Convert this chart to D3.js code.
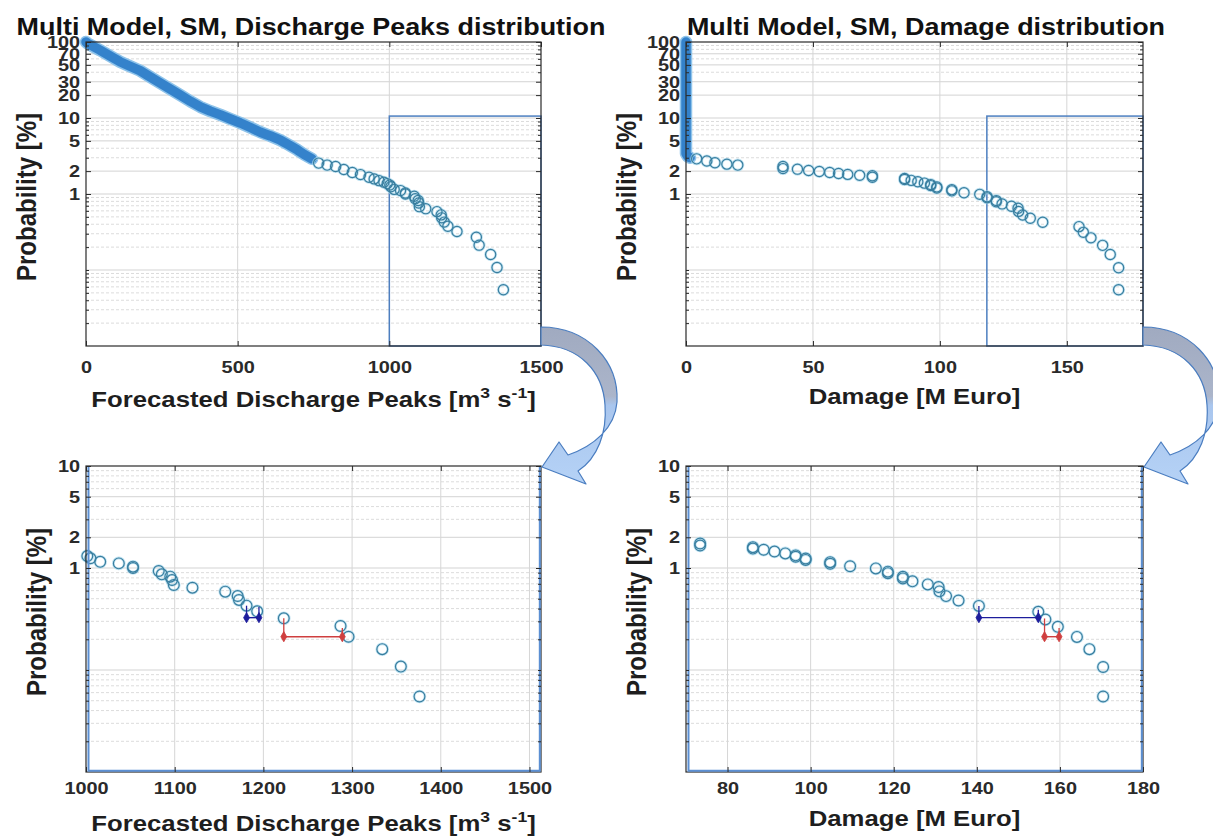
<!DOCTYPE html>
<html>
<head>
<meta charset="utf-8">
<script src="https://cdn.jsdelivr.net/npm/d3@7"></script>
<style>
  body { margin: 0; background: #fff; }
  svg { display: block; }
  text { font-family: "Liberation Sans", Arial, Helvetica, sans-serif; font-weight: bold; }
</style>
</head>
<body>
<svg id="fig" width="1213" height="837"></svg>
<script>
// ---------------------------------------------------------------
// Exceedance probability of forecasted discharge peaks [m3/s]
// dense part of the ensemble (overlapping markers)
const dischargeBand = [[0,100],[5,96],[22,88],[46,78],[80,65],[112,55],[145,48],[178,42],[210,35],[244,29],
  [278,24],[311,20],[345,16.5],[377,14],[410,12.3],[443,11],[476,9.7],[509,8.6],[542,7.5],[575,6.5],
  [608,5.8],[641,5.1],[670,4.4],[697,3.8],[720,3.3],[745,2.9]];
// individual members in the upper tail
const dischargeTail = [[767,2.55],[795,2.4],[823,2.3],[850,2.1],[878,1.92],[905,1.8],[933,1.66],[950,1.58],
  [966,1.5],[982,1.43],[993,1.37],[1001.5,1.31],[1005,1.245],[1016,1.15],[1037,1.11],[1053,1.03],[1053,1.0],
  [1082,0.935],[1085.5,0.867],[1095,0.822],[1097,0.762],[1099,0.681],[1120,0.641],[1157,0.586],[1171,0.531],
  [1172.5,0.486],[1181,0.427],[1193,0.376],[1223,0.321],[1287,0.27],[1296,0.212],[1334,0.16],[1355,0.108],[1376,0.055]];
// intervals: [from, to, probability of the bar, probability at left end, probability at right end]
const dischargeIntervals = [[1181,1195,0.326,0.427,0.415],[1223,1289,0.212,0.321,0.258]];

// Exceedance probability of damage [M Euro]
const damageBand = [[0,100],[0,93],[0,86],[0,79],[0,72],[0,65],[0,59],[0,53],[0,48],[0,43],[0,38],[0,34],
  [0,30],[0,27],[0,24],[0,21],[0,18.5],[0,16],[0,14],[0,12.3],[0,10.8],[0,9.5],[0,8.3],[0,7.3],[0,6.4],
  [0,5.6],[0,4.9],[0,4.3],[0,3.8],[0,3.4],[0.6,3.15],[1.6,3.0]];
const damageTail = [[4.2,2.9],[8.2,2.72],[11.4,2.58],[16.1,2.47],[20.4,2.4],[38.2,2.3],[38.2,2.16],[43.9,2.12],
  [48.3,2.04],[52.5,1.98],[56.6,1.92],[60.1,1.86],[63.7,1.81],[68.4,1.76],[73.4,1.74],[73.4,1.66],[86.1,1.6],
  [86.1,1.55],[88.7,1.51],[91.3,1.45],[93.9,1.39],[96.4,1.33],[96.4,1.29],[98.8,1.24],[98.8,1.2],[104.7,1.14],
  [104.7,1.1],[109.5,1.04],[115.7,0.99],[118.6,0.92],[118.6,0.89],[122.2,0.82],[122.2,0.79],[124.5,0.74],
  [128.2,0.69],[130.8,0.65],[131,0.59],[132.6,0.53],[135.6,0.48],[140.5,0.425],[154.8,0.372],[156.5,0.313],
  [159.5,0.265],[164.1,0.211],[167.1,0.16],[170.4,0.107],[170.4,0.055]];
const damageIntervals = [[140.5,154.8,0.326,0.425,0.39],[156.3,159.8,0.212,0.32,0.258]];

// axis ticks and labels
const dischargeTicksFull = [0, 500, 1000, 1500];
const dischargeTicksZoom = [1000, 1100, 1200, 1300, 1400, 1500];
const damageTicksFull = [0, 50, 100, 150];
const damageTicksZoom = [80, 100, 120, 140, 160, 180];
const probLabelsFull = [1, 2, 5, 10, 20, 30, 50, 70, 100];
const probLabelsZoom = [1, 2, 5, 10];
// highlighted window shown in the overview plots
const dischargeWindow = [1000, 1500];
const damageWindow = [118.5, 180];
const windowProb = [0.01, 10.6];

// ---------------------------------------------------------------
const svg = d3.select('#fig');
const defs = svg.append('defs');
const SX = 1.17;                      // horizontal stretch of the lettering
const FONT = '"Liberation Sans", Arial, Helvetica, sans-serif';
const INTERVAL_COLORS = ['#1d1d9c', '#cf3f3f'];

svg.append('rect').attr('width', 1213).attr('height', 837).attr('fill', '#fff');

function logGrid(domain) {
  const out = [];
  const lo = Math.floor(Math.log10(domain[0]) + 1e-9), hi = Math.ceil(Math.log10(domain[1]) - 1e-9);
  for (let e = lo; e <= hi; e++) {
    for (let k = 1; k <= 9; k++) {
      const v = +(k * Math.pow(10, e)).toPrecision(4);
      if (v >= domain[0] * 0.9999 && v <= domain[1] * 1.0001) out.push(v);
    }
  }
  return out;
}

function styleTickText(sel, size) {
  sel.selectAll('text')
    .attr('font-family', FONT).attr('font-weight', 'bold')
    .attr('font-size', size).attr('fill', '#2a2a2a')
    .attr('transform', `scale(${SX},1)`);
}

function drawPanel(P) {
  const { x0, x1, y0, y1 } = P.box;
  const x = d3.scaleLinear().domain(P.xDomain).range([x0, x1]);
  const y = d3.scaleLog().domain(P.yDomain).range([y1, y0]);
  const g = svg.append('g');

  // grid
  const yVals = logGrid(P.yDomain).filter(v => v > P.yDomain[0] * 1.0001 && v < P.yDomain[1] * 0.9999);
  const isDecade = v => Math.abs(Math.log10(v) - Math.round(Math.log10(v))) < 1e-6;
  const isMajor = v => isDecade(v) || P.yLabels.includes(v);
  const grid = g.append('g');
  grid.selectAll('line.h').data(yVals).join('line').attr('class', 'h')
    .attr('x1', x0).attr('x2', x1).attr('y1', d => y(d)).attr('y2', d => y(d))
    .attr('stroke', d => isMajor(d) ? '#d3d3d3' : '#dcdcdc')
    .attr('stroke-width', 1)
    .attr('stroke-dasharray', d => isMajor(d) ? null : '3,2');
  grid.selectAll('line.v').data(P.xTicks.filter(v => v > P.xDomain[0] && v < P.xDomain[1])).join('line').attr('class', 'v')
    .attr('x1', d => x(d)).attr('x2', d => x(d)).attr('y1', y0).attr('y2', y1)
    .attr('stroke', '#d6d6d6').attr('stroke-width', 1);

  // window marking the zoomed region
  if (P.window) {
    g.append('rect')
      .attr('x', x(P.window[0])).attr('y', y(windowProb[1]))
      .attr('width', x(P.window[1]) - x(P.window[0]))
      .attr('height', y(windowProb[0]) - y(windowProb[1]))
      .attr('fill', 'none').attr('stroke', '#4d7fc0').attr('stroke-width', 1.5);
  }

  // dense ensemble: overlapping markers merge into a band
  if (P.band) {
    const line = d3.line().x(d => x(d[0])).y(d => y(d[1]));
    const bg = g.append('g');
    bg.append('path').attr('d', line(P.band)).attr('fill', 'none')
      .attr('stroke', '#8ec3ea').attr('stroke-width', 12.5)
      .attr('stroke-linecap', 'round').attr('stroke-linejoin', 'round');
    bg.append('path').attr('d', line(P.band)).attr('fill', 'none')
      .attr('stroke', '#3482cb').attr('stroke-width', 9.5)
      .attr('stroke-linecap', 'round').attr('stroke-linejoin', 'round');
  }

  // individual markers
  const pts = P.points.filter(d => d[0] >= P.xDomain[0] && d[0] <= P.xDomain[1] &&
                                   d[1] >= P.yDomain[0] && d[1] <= P.yDomain[1]);
  const mk = g.append('g');
  mk.selectAll('circle.halo').data(pts).join('circle').attr('class', 'halo')
    .attr('cx', d => x(d[0])).attr('cy', d => y(d[1])).attr('r', P.r)
    .attr('fill', 'none').attr('stroke', '#a9d8ec').attr('stroke-width', 2.8).attr('stroke-opacity', 0.75);
  mk.selectAll('circle.ring').data(pts).join('circle').attr('class', 'ring')
    .attr('cx', d => x(d[0])).attr('cy', d => y(d[1])).attr('r', P.r)
    .attr('fill', 'none').attr('stroke', '#387d9e').attr('stroke-width', 1.15);

  // probability intervals
  if (P.intervals) {
    P.intervals.forEach((iv, i) => {
      const c = INTERVAL_COLORS[i];
      const ig = g.append('g');
      ig.append('line').attr('x1', x(iv[0])).attr('x2', x(iv[0])).attr('y1', y(iv[3])).attr('y2', y(iv[2]))
        .attr('stroke', c).attr('stroke-width', 1.3);
      ig.append('line').attr('x1', x(iv[1])).attr('x2', x(iv[1])).attr('y1', y(iv[4])).attr('y2', y(iv[2]))
        .attr('stroke', c).attr('stroke-width', 1.3);
      ig.append('line').attr('x1', x(iv[0])).attr('x2', x(iv[1])).attr('y1', y(iv[2])).attr('y2', y(iv[2]))
        .attr('stroke', c).attr('stroke-width', 1.4);
      ig.selectAll('path').data([iv[0], iv[1]]).join('path')
        .attr('d', d3.symbol(d3.symbolDiamond, 30))
        .attr('transform', d => `translate(${x(d)},${y(iv[2])})`)
        .attr('fill', c).attr('stroke', c).attr('stroke-width', 0.8);
    });
  }

  // frame
  g.append('rect').attr('x', x0).attr('y', y0).attr('width', x1 - x0).attr('height', y1 - y0)
    .attr('fill', 'none').attr('stroke', '#2a2a2a').attr('stroke-width', 1.2);
  if (P.zoomFrame) {
    g.append('path')
      .attr('d', `M${x0 + 2.5},${y0 + 1} V${y1 - 1.2} H${x1 - 1.2} V${y0 + 1}`)
      .attr('fill', 'none').attr('stroke', '#5b8fd3').attr('stroke-width', 2);
  }

  // axes (ticks point inwards on all four sides)
  const minors = yVals.filter(v => !P.yLabels.includes(v));
  const ax = g.append('g');
  const bottom = ax.append('g').attr('transform', `translate(0,${y1})`)
    .call(d3.axisBottom(x).tickValues(P.xTicks).tickSizeInner(-5).tickSizeOuter(0)
      .tickPadding(P.xPad).tickFormat(d3.format('d')));
  ax.append('g').attr('transform', `translate(0,${y0})`)
    .call(d3.axisTop(x).tickValues(P.xTicks).tickSizeInner(-5).tickSizeOuter(0).tickFormat(''));
  const left = ax.append('g').attr('transform', `translate(${x0},0)`)
    .call(d3.axisLeft(y).tickValues(P.yLabels).tickSizeInner(-5).tickSizeOuter(0)
      .tickPadding(5).tickFormat(d3.format('~g')));
  ax.append('g').attr('transform', `translate(${x0},0)`)
    .call(d3.axisLeft(y).tickValues(minors).tickSizeInner(-3).tickSizeOuter(0).tickFormat(''));
  ax.append('g').attr('transform', `translate(${x1},0)`)
    .call(d3.axisRight(y).tickValues(P.yLabels).tickSizeInner(-5).tickSizeOuter(0).tickFormat(''));
  ax.append('g').attr('transform', `translate(${x1},0)`)
    .call(d3.axisRight(y).tickValues(minors).tickSizeInner(-3).tickSizeOuter(0).tickFormat(''));
  ax.selectAll('.domain').remove();
  ax.selectAll('.tick line').attr('stroke', '#2a2a2a');
  styleTickText(bottom, 17);
  styleTickText(left, 17);

  // titles
  if (P.title) {
    svg.append('text').attr('text-anchor', 'middle').attr('font-size', 23).attr('fill', '#111')
      .attr('transform', `translate(${P.title.x},${P.title.y}) scale(${SX},1)`).text(P.title.text);
  }
  const xt = svg.append('text').attr('text-anchor', 'middle').attr('font-size', 22).attr('fill', '#1e1e1e')
    .attr('transform', `translate(${(x0 + x1) / 2},${P.xTitleY}) scale(${SX},1)`);
  P.xTitle(xt);
  svg.append('text').attr('text-anchor', 'middle').attr('font-size', 24).attr('fill', '#1e1e1e')
    .attr('dy', '0.35em')
    .attr('transform', `translate(${P.yTitle.x},${P.yTitle.y}) scale(${SX},1) rotate(-90)`)
    .text('Probability [%]');
}

function dischargeTitle(t) {
  t.append('tspan').text('Forecasted Discharge Peaks [m');
  t.append('tspan').attr('dy', -9).attr('font-size', 15).text('3');
  t.append('tspan').attr('dy', 9).text(' s');
  t.append('tspan').attr('dy', -9).attr('font-size', 15).text('-1');
  t.append('tspan').attr('dy', 9).text(']');
}
function damageTitle(t) { t.text('Damage [M Euro]'); }

drawPanel({
  box: { x0: 86, x1: 541, y0: 42, y1: 346 },
  xDomain: [0, 1500], yDomain: [0.01, 100], xTicks: dischargeTicksFull, yLabels: probLabelsFull,
  band: dischargeBand, points: dischargeTail, r: 5.1, window: dischargeWindow, xPad: 15,
  title: { text: 'Multi Model, SM, Discharge Peaks distribution', x: 311, y: 35 },
  xTitle: dischargeTitle, xTitleY: 407, yTitle: { x: 26, y: 197 }
});
drawPanel({
  box: { x0: 686, x1: 1143, y0: 42, y1: 346 },
  xDomain: [0, 180], yDomain: [0.01, 100], xTicks: damageTicksFull, yLabels: probLabelsFull,
  band: damageBand, points: damageTail, r: 5.1, window: damageWindow, xPad: 15,
  title: { text: 'Multi Model, SM, Damage distribution', x: 926, y: 35 },
  xTitle: damageTitle, xTitleY: 404, yTitle: { x: 626, y: 197 }
});
drawPanel({
  box: { x0: 86, x1: 541, y0: 466, y1: 772 },
  xDomain: [1000, 1513], yDomain: [0.01, 10], xTicks: dischargeTicksZoom, yLabels: probLabelsZoom,
  points: dischargeTail, r: 5.4, intervals: dischargeIntervals, zoomFrame: true, xPad: 10,
  xTitle: dischargeTitle, xTitleY: 831, yTitle: { x: 36, y: 612 }
});
drawPanel({
  box: { x0: 686, x1: 1143, y0: 466, y1: 772 },
  xDomain: [70, 180], yDomain: [0.01, 10], xTicks: damageTicksZoom, yLabels: probLabelsZoom,
  points: damageTail, r: 5.4, intervals: damageIntervals, zoomFrame: true, xPad: 10,
  xTitle: damageTitle, xTitleY: 826, yTitle: { x: 636, y: 612 }
});

// curved arrows linking each overview to its zoomed view
const grad = defs.append('linearGradient').attr('id', 'arrowFill')
  .attr('gradientUnits', 'userSpaceOnUse').attr('x1', 0).attr('y1', 327).attr('x2', 0).attr('y2', 484);
grad.append('stop').attr('offset', 0).attr('stop-color', '#a0aac0');
grad.append('stop').attr('offset', 0.44).attr('stop-color', '#abb5ca');
grad.append('stop').attr('offset', 0.5).attr('stop-color', '#a9c6ee');
grad.append('stop').attr('offset', 1).attr('stop-color', '#b5d2f6');
const arrowPath = 'M541,327 C588,327 619,362 617,402 C615,428 594,446 568,455 L559,442 L542,467 ' +
                  'L586,484 L578,471 C598,458 607,432 605,405 C603,372 580,346 541,345 Z';
[0, 602].forEach(dx => {
  svg.append('path').attr('d', arrowPath).attr('transform', `translate(${dx},0)`)
    .attr('fill', 'url(#arrowFill)').attr('stroke', '#4a7dc0').attr('stroke-width', 1.2)
    .attr('stroke-linejoin', 'round');
});
</script>
</body>
</html>
